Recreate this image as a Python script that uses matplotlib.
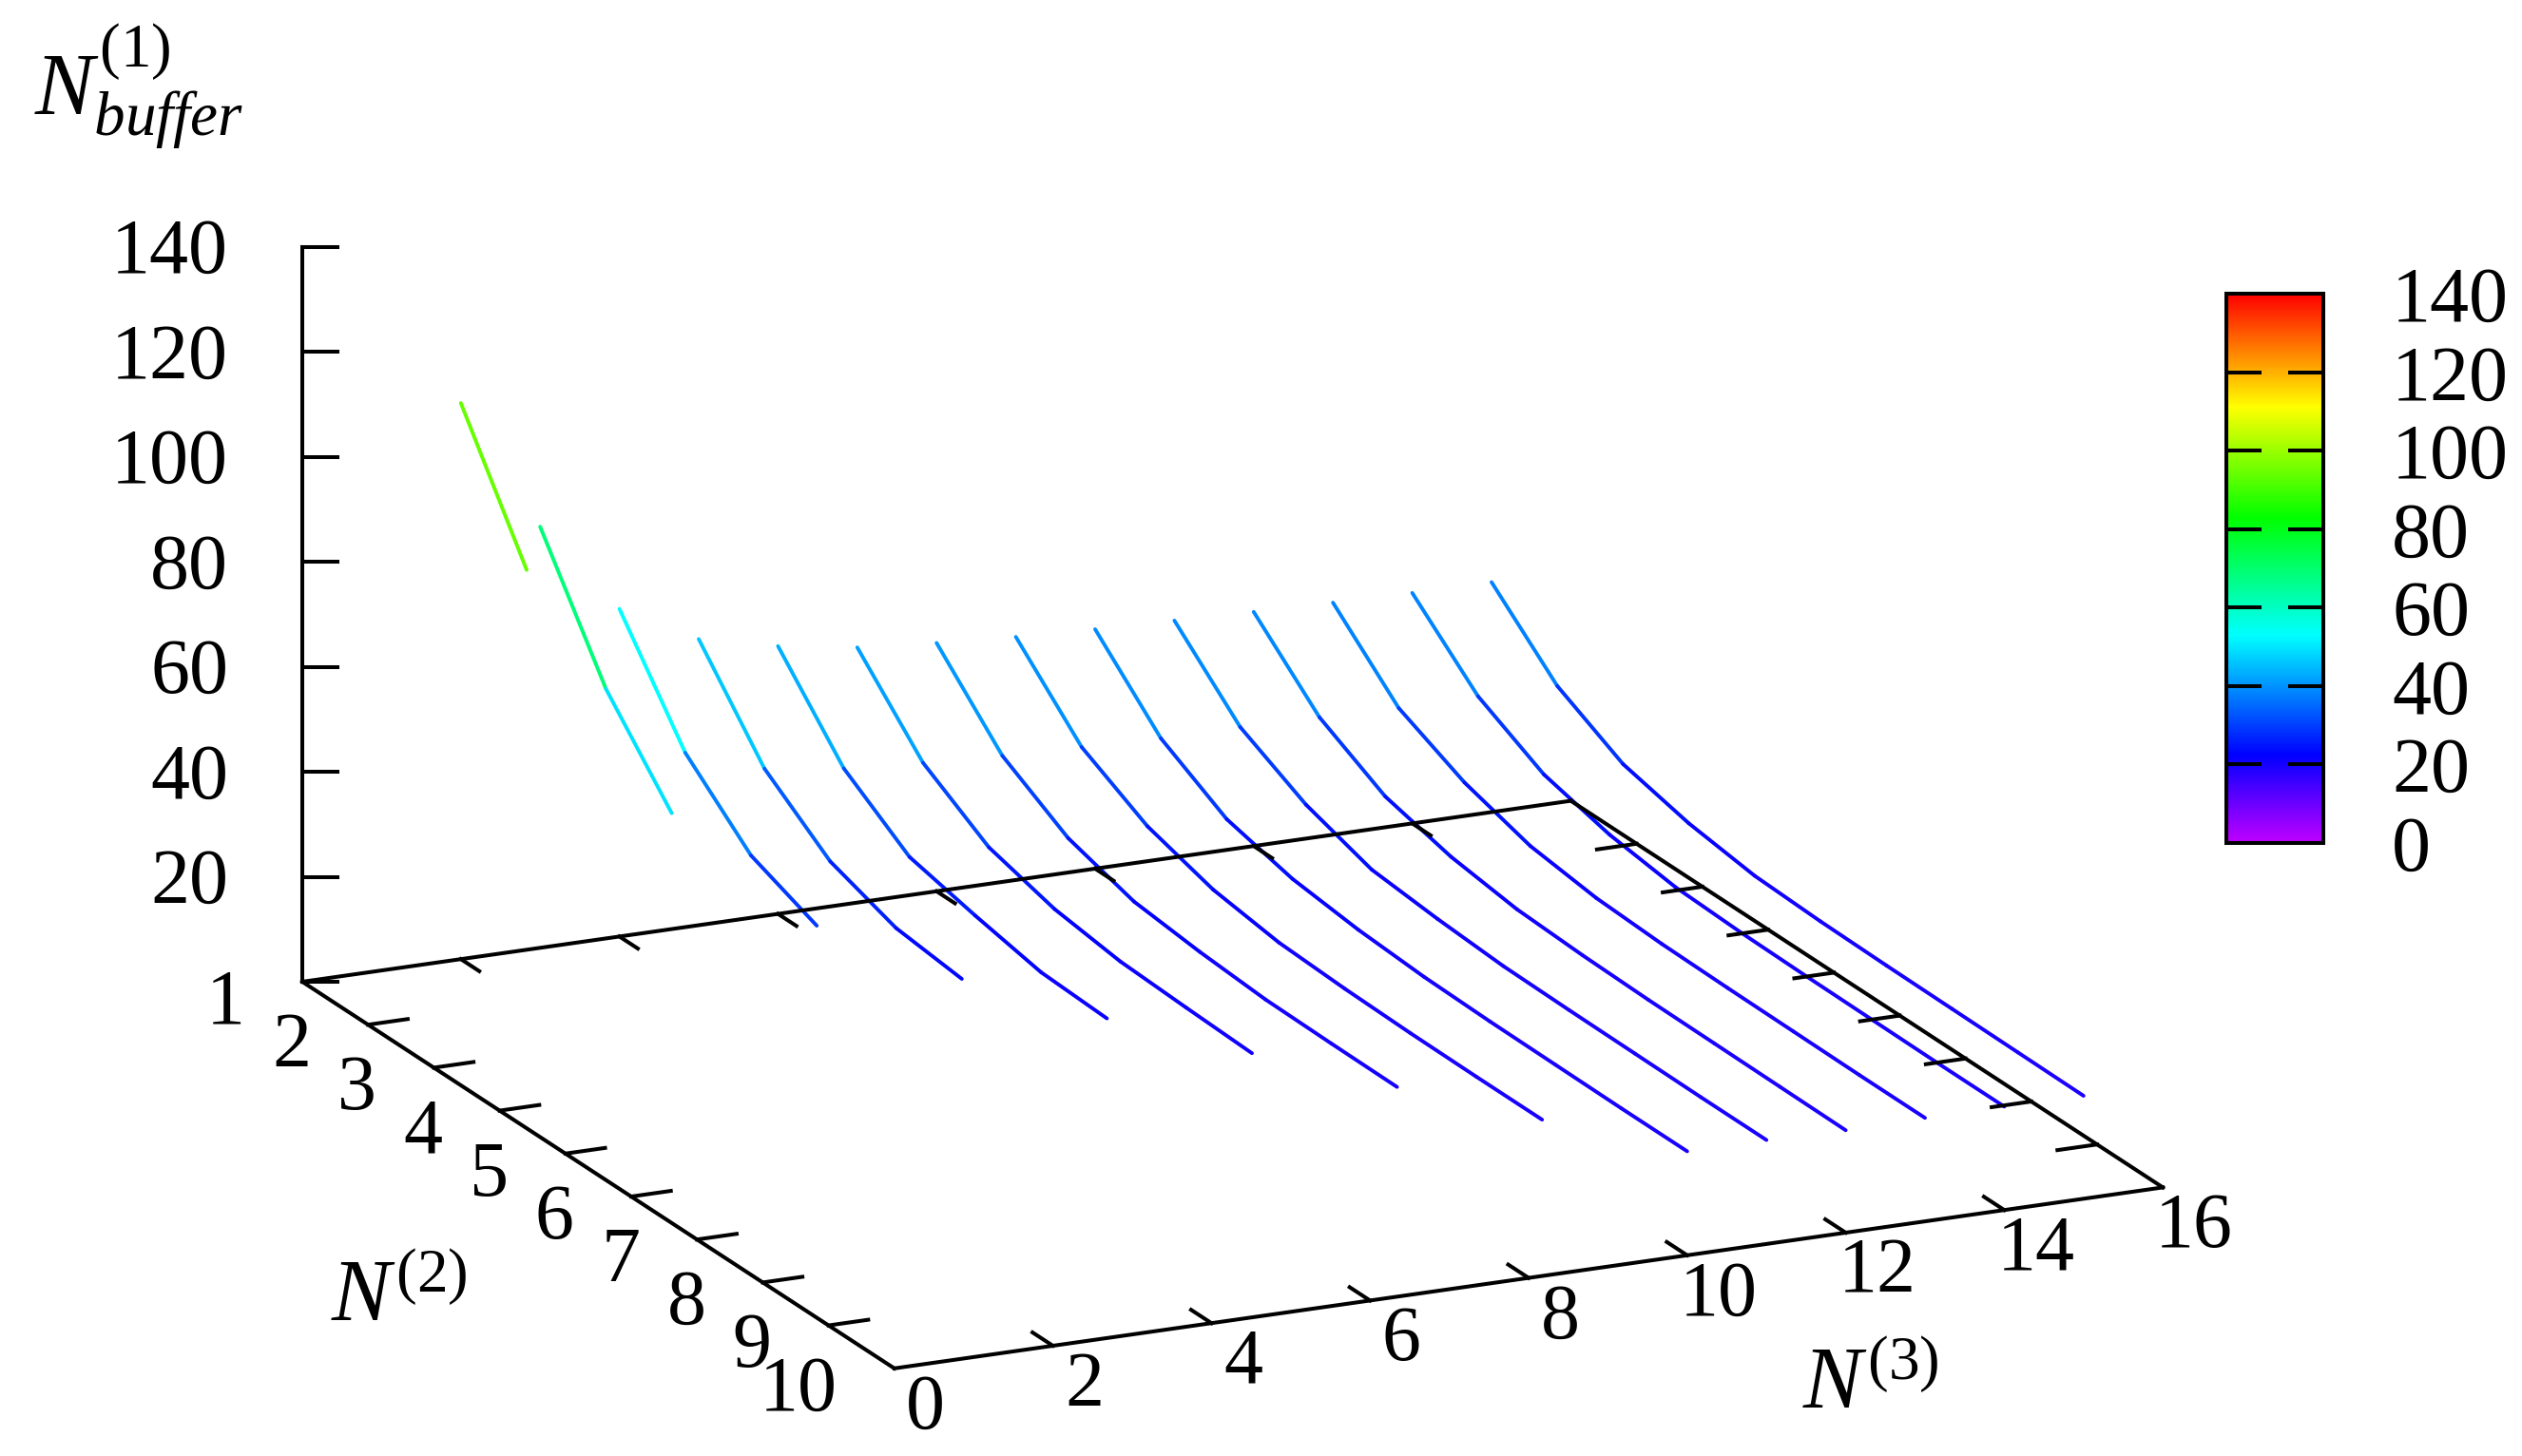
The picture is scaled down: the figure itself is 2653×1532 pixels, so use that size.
import matplotlib
matplotlib.use('Agg')
import matplotlib.pyplot as plt
import numpy as np
from matplotlib.cm import ScalarMappable
from matplotlib.collections import LineCollection
from matplotlib.colors import LinearSegmentedColormap, Normalize

plt.rcParams['font.family'] = ['Liberation Serif', 'DejaVu Serif']
plt.rcParams['mathtext.fontset'] = 'custom'
plt.rcParams['mathtext.rm'] = 'Liberation Serif'
plt.rcParams['mathtext.it'] = 'Liberation Serif:italic'

# N^(1)_buffer along each line, N^(2) = 1, 2, ... as far as the line goes
n3_values = [2, 3, 4, 5, 6, 7, 8, 9, 10, 11, 12, 13, 14, 15]
buffer_n3_2 = [105.9, 82.3]
buffer_n3_3 = [80.2, 57.5, 42.0]
buffer_n3_4 = [62.4, 43.2, 31.8, 26.6]
buffer_n3_5 = [54.5, 38.0, 28.5, 24.0, 22.5]
buffer_n3_6 = [51.0, 35.9, 27.2, 24.2, 21.6, 21.0]
buffer_n3_7 = [48.6, 34.8, 26.9, 23.3, 21.5, 20.9, 20.4]
buffer_n3_8 = [47.3, 34.0, 26.5, 22.6, 21.2, 20.3, 20.1, 20.0]
buffer_n3_9 = [46.3, 33.5, 26.6, 22.7, 20.8, 20.2, 19.9, 19.8, 19.8]
buffer_n3_10 = [45.6, 33.0, 25.8, 22.6, 21.1, 20.3, 20.0, 19.9, 19.8, 19.8]
buffer_n3_11 = [45.1, 33.0, 26.4, 22.2, 21.0, 20.2, 20.0, 19.9, 19.8, 19.8]
buffer_n3_12 = [44.6, 32.7, 25.8, 22.5, 20.7, 20.1, 19.8, 19.7, 19.6, 19.5]
buffer_n3_13 = [44.2, 32.3, 26.3, 22.4, 20.7, 20.1, 19.9, 19.8, 19.7, 19.7]
buffer_n3_14 = [43.9, 32.4, 25.7, 22.4, 20.6, 20.1, 19.9, 19.8, 19.7, 19.7]
buffer_n3_15 = [43.8, 32.2, 25.5, 22.4, 20.6, 20.1, 19.9, 19.8, 19.7, 19.6]
all_buffers = [buffer_n3_2, buffer_n3_3, buffer_n3_4, buffer_n3_5, buffer_n3_6,
               buffer_n3_7, buffer_n3_8, buffer_n3_9, buffer_n3_10, buffer_n3_11,
               buffer_n3_12, buffer_n3_13, buffer_n3_14, buffer_n3_15]

n2_ticks = [1, 2, 3, 4, 5, 6, 7, 8, 9, 10]
n3_ticks = [0, 2, 4, 6, 8, 10, 12, 14, 16]
z_ticks = [0, 20, 40, 60, 80, 100, 120, 140]
cb_ticks = [0, 20, 40, 60, 80, 100, 120, 140]

W, H = 2653, 1532
FONT = 59
TITLE_FONT = 67
LW = 2.9

# oblique view, in pixels of the picture
ORIGIN = np.array([318.0, 1033.0])
PER_N2 = np.array([69.2, 45.2])
PER_N3 = np.array([83.4, -11.9])
PER_Z = np.array([0.0, -5.525])


def project(n2, n3, z=0.0):
    return ORIGIN + (n2 - 1) * PER_N2 + n3 * PER_N3 + z * PER_Z


# same colours as the gnuplot palette: violet, blue, cyan, green, yellow, red
palette = LinearSegmentedColormap.from_list('rainbow_bar', [
    (0.0, '#bf00ff'), (22.4 / 140, '#0000ff'), (52.9 / 140, '#00ffff'),
    (82.9 / 140, '#00ff00'), (111.2 / 140, '#ffff00'), (1.0, '#ff0000')], N=512)
norm = Normalize(0, 140)

fig = plt.figure(figsize=(W / 100, H / 100), dpi=100)
ax = fig.add_axes([0, 0, 1, 1])
ax.set_xlim(0, W)
ax.set_ylim(H, 0)
ax.axis('off')

# lines, each segment coloured by its mean value
segments = []
seg_values = []
for n3, values in zip(n3_values, all_buffers):
    pts = [project(i + 1, n3, v) for i, v in enumerate(values)]
    for i in range(len(pts) - 1):
        segments.append([pts[i], pts[i + 1]])
        seg_values.append((values[i] + values[i + 1]) / 2)
lines = LineCollection(segments, cmap=palette, norm=norm, linewidths=2.8,
                       capstyle='round', zorder=2)
lines.set_array(np.array(seg_values))
ax.add_collection(lines)


def black_line(p, q):
    ax.plot([p[0], q[0]], [p[1], q[1]], color='black', lw=LW, zorder=3,
            solid_capstyle='projecting')


# base frame and z axis
corners = [project(1, 0), project(10, 0), project(10, 16), project(1, 16), project(1, 0)]
for p, q in zip(corners[:-1], corners[1:]):
    black_line(p, q)
black_line(project(1, 0, 0), project(1, 0, 140))

for z in z_ticks:
    p = project(1, 0, z)
    black_line(p, p + np.array([37, 0]))
    if z > 0:
        ax.text(p[0] - 78, p[1] - 1, str(z), ha='right', va='center_baseline', fontsize=FONT)

for n2 in n2_ticks:
    p = project(n2, 0)
    if 1 < n2 < 10:
        black_line(p, p + 0.5 * PER_N3)
        q = project(n2, 16)
        black_line(q, q - 0.5 * PER_N3)
    ax.text(p[0] - 60, p[1] + 15, str(n2), ha='right', va='center_baseline', fontsize=FONT)

for n3 in n3_ticks:
    p = project(10, n3)
    if 0 < n3 < 16:
        black_line(p, p - 0.31 * PER_N2)
        q = project(1, n3)
        black_line(q, q + 0.28 * PER_N2)
    ax.text(p[0] + 33, p[1] + 34, str(n3), ha='center', va='center_baseline', fontsize=FONT)

# axis titles
ax.text(36, 91, r'$N^{(1)}_{buffer}$', ha='left', va='center', fontsize=TITLE_FONT)
ax.text(420, 1367, r'$N^{(2)}$', ha='center', va='center', fontsize=TITLE_FONT)
ax.text(1968, 1459, r'$N^{(3)}$', ha='center', va='center', fontsize=TITLE_FONT)

# colour box
cax = fig.add_axes([2342 / W, 1 - 887 / H, 102 / W, 578 / H])
cb = fig.colorbar(ScalarMappable(norm=norm, cmap=palette), cax=cax)
cb.set_ticks(cb_ticks)
cb.outline.set_linewidth(LW)
cb.ax.tick_params(direction='in', length=26.5, width=LW, left=True, right=True,
                  labelsize=FONT, pad=52)
end_ticks = cb.ax.yaxis.get_major_ticks()
for tick in [end_ticks[0], end_ticks[-1]]:
    tick.tick1line.set_visible(False)
    tick.tick2line.set_visible(False)

fig.savefig('out.png', dpi=100)
